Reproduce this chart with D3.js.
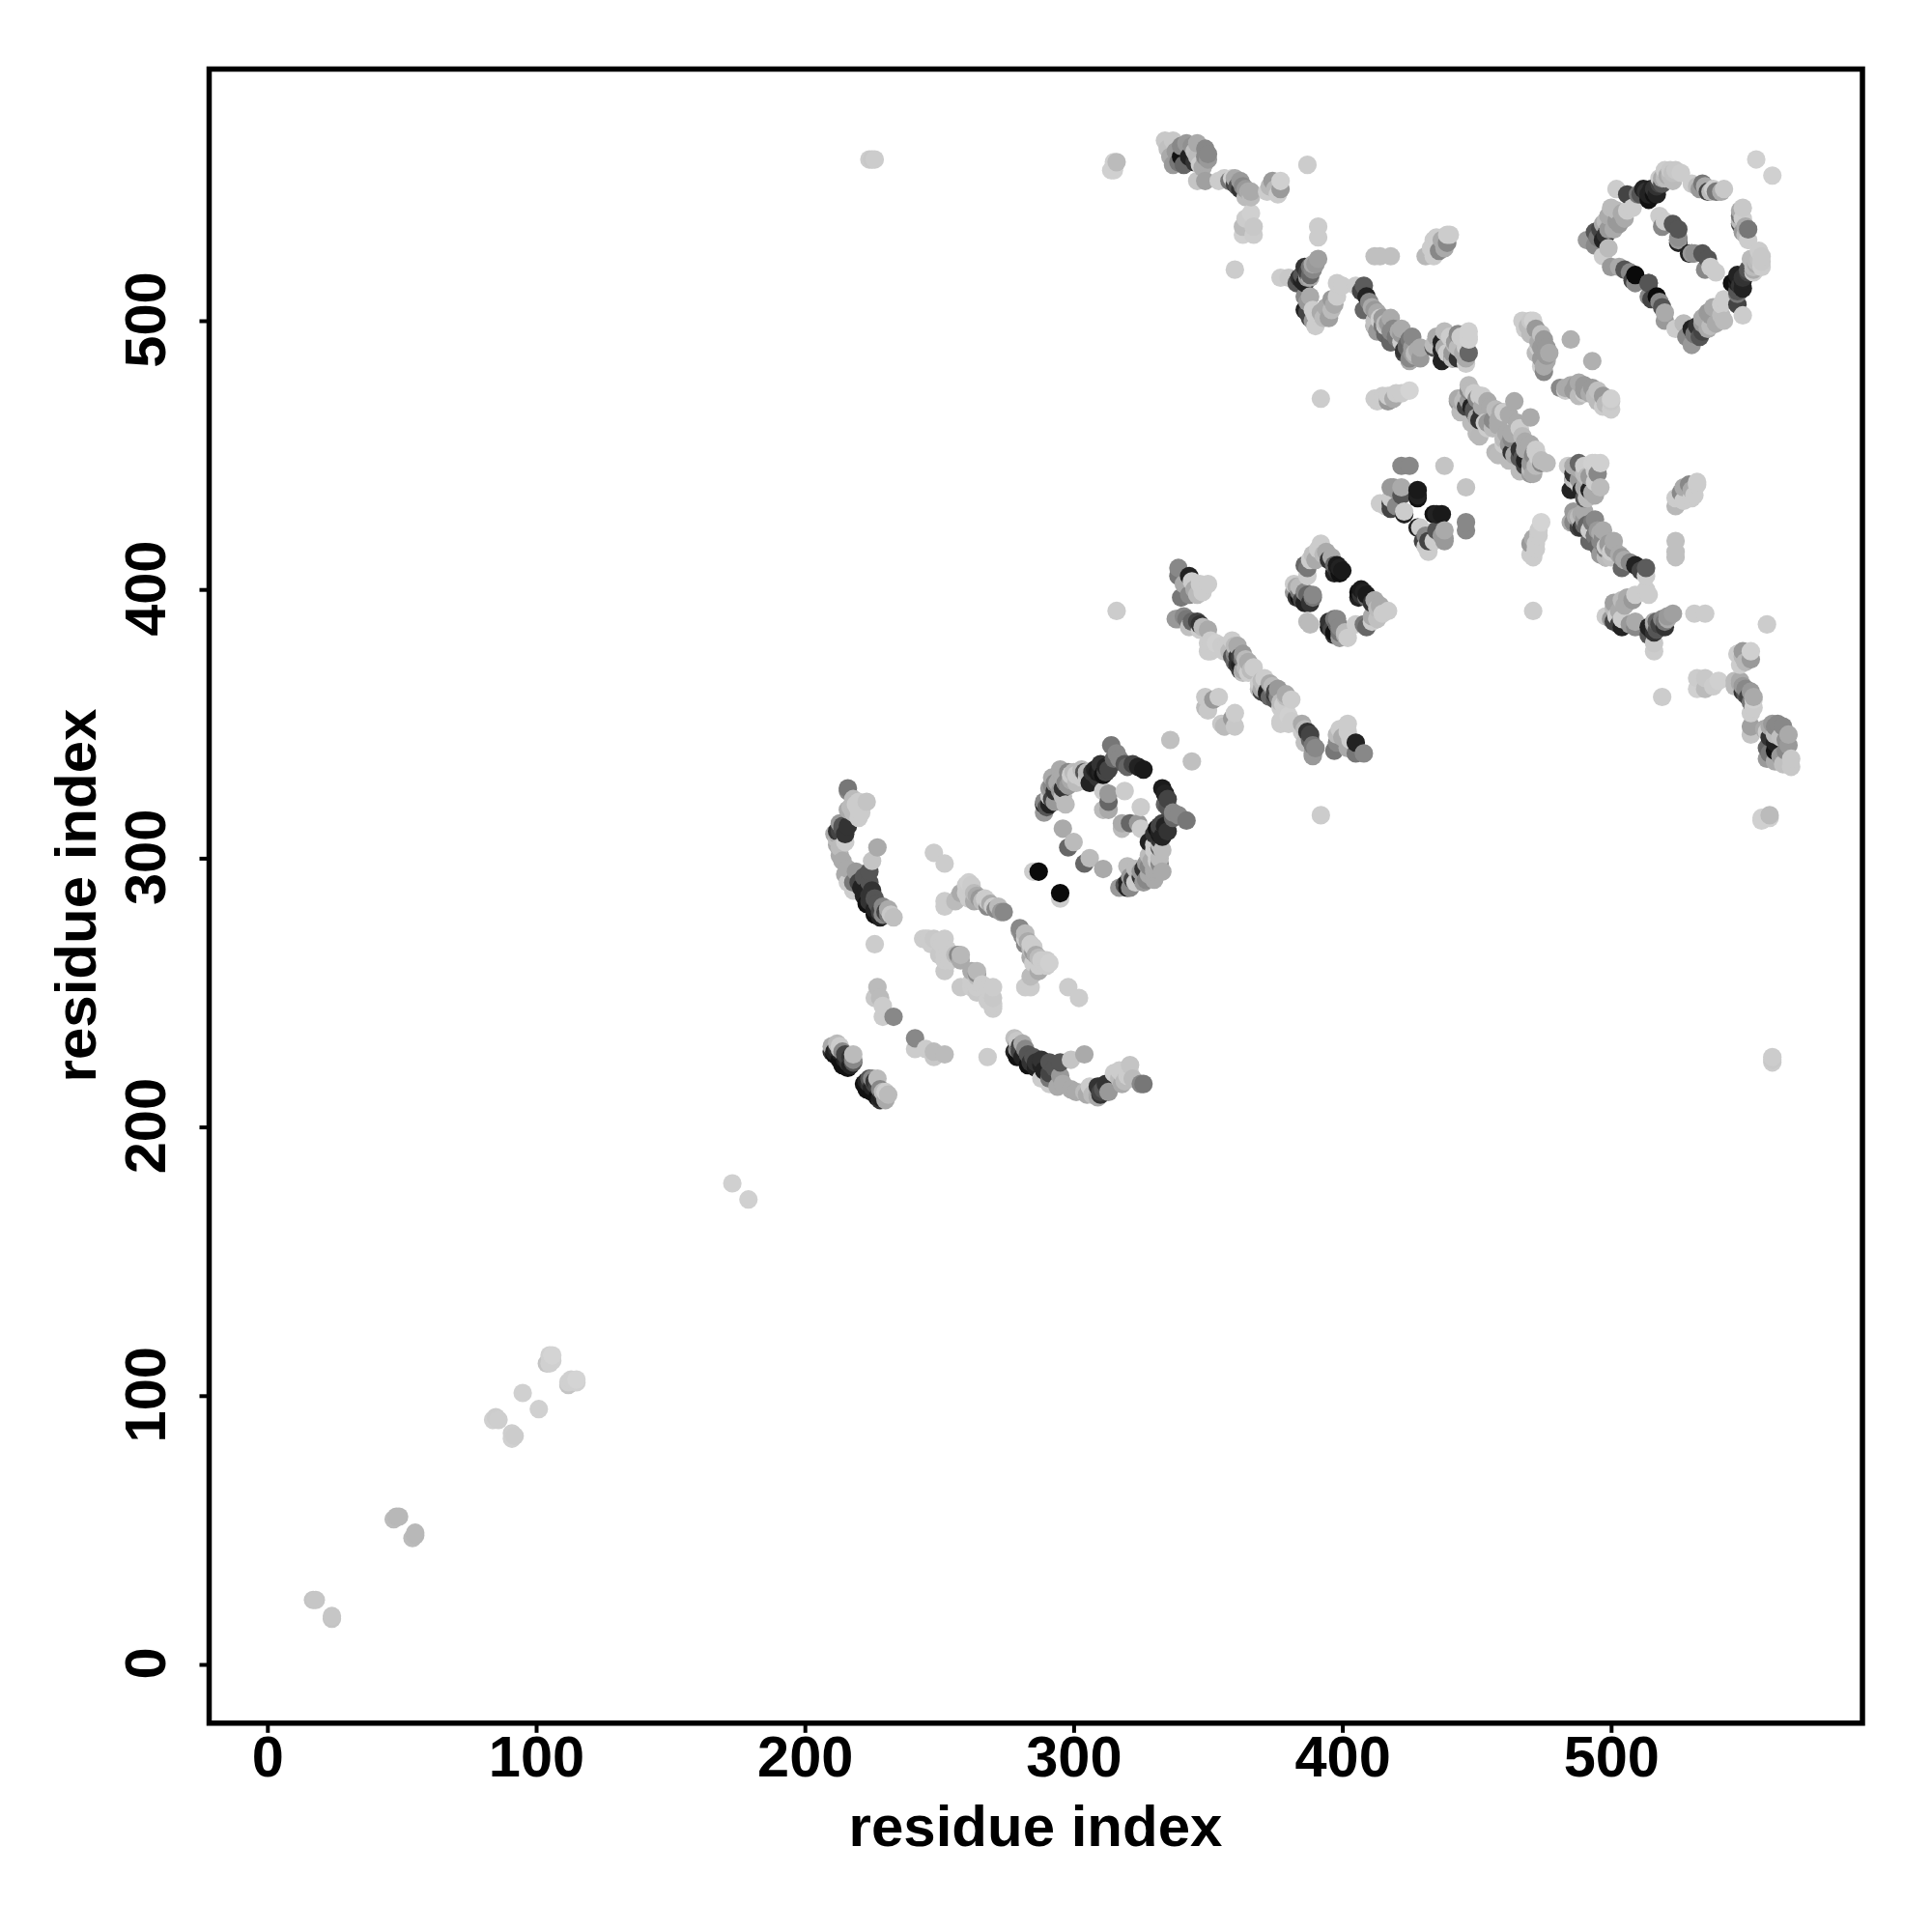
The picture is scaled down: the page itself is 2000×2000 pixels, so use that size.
<!DOCTYPE html>
<html><head><meta charset="utf-8">
<script src="https://cdn.jsdelivr.net/npm/d3@7/dist/d3.min.js"></script>
<style>html,body{margin:0;padding:0;background:#fff}svg{display:block}</style>
</head><body><svg id="c" width="2000" height="2000"></svg>
<script>
// Contact pairs [residue i, residue j, grey level]; the map is symmetric, each pair is shown at (i,j) and (j,i)
const nearDiagonal = [[17,24,0xc4],[18,24,0xc6],[47,54,0xbb],[48,55,0xb8],[49,55,0xb8],[84,91,0xd0],[85,92,0xcc],[86,91,0xce],[95,101,0xd0],[104,112,0xc4],[105,112,0xd0],[105,115,0xd0],[106,113,0xd0],[106,115,0xd4],[173,179,0xd0]];
const longRange = [[224,560,0xcc],[225,560,0xc8],[226,560,0xcc],[315,556,0xd0],[314,556,0xd0],[315,559,0xd0],[316,559,0xbb],[316,392,0xcc],[336,344,0xc0],[387,558,0xcc],[392,471,0xcc],[554,560,0xd0],[360,519,0xcc]];
const topBlob = [[334,567,0xc8],[337,567,0xc8],[335,564,0xc0],[337,558,0x9a],[340,565,0x88],[340,561,0x11],[341,558,0x66],[344,565,0x90],[343,561,0x22],[345,563,0xc0],[349,564,0x88],[349,561,0x88],[349,559,0xaa],[336,561,0xaa],[338,563,0x99],[339,559,0x77],[342,566,0x99],[346,566,0xaa],[347,558,0xcc],[346,561,0xbb],[350,562,0x88],[350,560,0x99],[348,557,0xaa],[345,559,0x33]];
const topTail = [[346,552,0xc4],[349,552,0xa0],[354,552,0xcc],[359,553,0xd0],[358,552,0x77],[361,550,0x55],[363,550,0x88],[362,552,0x99],[365,548,0xaa],[364,546,0xbb],[373,550,0xb8],[374,552,0x9a],[376,547,0xcc],[377,549,0x9a],[377,552,0xd0],[366,540,0xd0],[364,538,0xcc],[367,535,0xc8],[363,535,0xbb],[363,532,0xd0],[367,532,0xcc],[356,553,0xcc],[360,551,0x44],[362,549,0x33],[364,549,0x99],[366,548,0xaa],[366,546,0xbb],[360,553,0xaa],[372,548,0xcc],[375,549,0xb8]];
const upperCluster = [[391,535,0xcc],[391,531,0xcc],[391,523,0xa0],[388,520,0x77],[386,520,0x33],[385,517,0x55],[386,514,0x22],[387,516,0x99],[383,514,0x55],[377,516,0xcc],[380,516,0xc8],[389,521,0xaa],[386,509,0x88],[388,509,0xaa],[386,504,0x22],[389,504,0xcc],[390,498,0xcc],[388,501,0x44],[395,501,0xa0],[396,504,0xbb],[396,508,0x99],[398,509,0xcc],[398,514,0xcc],[400,513,0xcc],[390,502,0xcc],[387,518,0x44],[388,517,0x66],[389,519,0x88],[390,521,0x99],[384,516,0x33],[385,515,0x22],[388,516,0xaa],[387,507,0x99],[387,503,0x44],[389,500,0x99],[392,503,0xaa],[393,501,0xbb],[394,505,0xaa],[397,506,0xaa]];
const upperStrand = [[405,513,0xcc],[408,513,0x5c],[409,509,0x22],[408,504,0x66],[412,504,0x99],[414,500,0xcc],[412,498,0x88],[417,499,0x9a],[416,495,0x66],[421,496,0xaa],[418,492,0x55],[425,493,0x77],[423,489,0x33],[428,489,0xaa],[425,486,0x88],[412,524,0xc0],[414,524,0xc0],[418,524,0xc0],[431,524,0xb8],[434,524,0xcc],[436,526,0x88],[434,530,0xcc],[439,532,0xcc],[439,529,0x88],[440,532,0xcc],[435,531,0xcc],[412,471,0xcc],[417,470,0x99],[417,472,0xcc],[420,473,0xcc],[425,474,0xd4],[410,507,0x88],[411,505,0xaa],[413,503,0xaa],[415,501,0x99],[415,498,0x77],[419,497,0x88],[420,494,0x77],[422,495,0x99],[424,491,0x66],[426,490,0x99],[427,488,0xbb],[416,498,0xcc],[407,511,0x44],[433,527,0xcc],[437,530,0xaa],[438,527,0xaa],[413,470,0xcc],[415,472,0xcc],[419,471,0xaa],[422,473,0xcc]];
const ringK = [[422,446,0x88],[425,446,0x88],[438,446,0xc4],[419,438,0x99],[422,438,0xaa],[418,438,0x99],[420,437,0x99],[414,432,0xcc],[416,431,0xcc],[418,432,0x44],[418,430,0x44],[420,431,0x88],[418,434,0xcc],[423,429,0xcc],[423,428,0x22],[428,434,0x11],[422,435,0x55],[428,437,0x1a],[428,435,0x22]];
const crossStrand = [[447,476,0xbb],[443,471,0xaa],[449,473,0xcc],[444,466,0xbb],[454,470,0xaa],[464,470,0xaa],[459,466,0xaa],[450,458,0xbb],[453,462,0xcc],[449,466,0x55],[456,463,0x88],[451,472,0xcc],[445,470,0xbb],[452,468,0xaa],[448,468,0x22],[452,466,0x33],[451,463,0x33],[449,467,0x55],[447,474,0x88],[443,470,0x99],[452,472,0xcc],[454,460,0xcc],[451,457,0xb8],[444,470,0xaa],[446,472,0xbb],[448,474,0xbb],[450,471,0x88],[446,468,0x44],[455,468,0xaa],[457,467,0xbb],[460,466,0xcc],[462,465,0xaa],[458,463,0xaa],[448,462,0xbb],[454,462,0x99],[456,460,0xbb],[450,464,0xaa],[458,461,0xaa],[447,470,0x99]];
const blob470 = [[470,500,0xc8],[467,500,0xcc],[472,497,0x99],[475,493,0x99],[476,490,0x99],[474,495,0xc0],[476,485,0xaa],[475,481,0x88],[474,483,0xcc],[470,495,0xbb],[471,500,0xd0],[469,498,0xbb],[485,493,0xb0],[468,497,0xcc],[473,492,0xaa],[472,488,0xbb],[474,486,0x99],[477,488,0xaa],[473,490,0xcc],[472,494,0xbb],[475,483,0xaa],[476,487,0x99],[474,490,0x99]];
const blob490 = [[488,447,0x66],[494,447,0xd0],[496,447,0xd0],[484,446,0xcc],[495,443,0x88],[485,437,0x22],[489,437,0x22],[486,443,0x33],[491,442,0xbb],[496,438,0xbb],[494,435,0xaa],[490,434,0x55],[486,441,0x55],[492,437,0x22],[488,441,0x99],[441,486,0xbb],[443,490,0xbb],[440,494,0xcc],[438,490,0xaa],[445,488,0xaa],[442,492,0x99],[444,494,0xcc],[446,490,0xcc],[446,486,0xaa],[447,493,0xd0],[436,493,0xaa],[434,491,0xbb],[439,488,0xcc]];
const strand490 = [[485,425,0xaa],[486,429,0x99],[490,429,0xaa],[494,426,0x88],[488,423,0x44],[492,422,0xcc],[497,422,0xaa],[496,418,0x88],[492,418,0x66],[501,418,0xaa],[496,413,0x99],[501,414,0xcc],[500,412,0xc0],[499,416,0xbb],[498,412,0xbb],[494,420,0x77],[490,424,0x66],[488,426,0x99],[487,427,0xaa]];
const diamondLeft = [[491,530,0x99],[494,528,0x88],[494,533,0x55],[498,532,0x33],[497,530,0x22],[498,537,0xbb],[502,537,0x99],[500,542,0xbb],[504,540,0xaa],[508,542,0xcc],[506,547,0x44],[502,549,0xcc],[497,524,0xcc],[499,527,0xbb],[495,531,0x77],[496,534,0x44],[499,534,0x99],[501,534,0xaa],[503,536,0x99],[505,538,0xaa],[497,536,0xaa],[499,539,0xaa],[502,541,0xbb],[506,541,0xcc]];
const diamondTop = [[510,547,0x77],[514,547,0x22],[512,549,0x22],[514,545,0x11],[516,549,0x33],[517,547,0x22],[519,551,0x55],[518,553,0xcc],[522,556,0xc8],[520,556,0xcc],[524,556,0xc8],[521,554,0xaa],[523,552,0xbb],[526,555,0xcc],[511,547,0x55],[513,548,0x33],[515,549,0x22],[516,547,0x11],[518,551,0x44],[519,553,0xaa],[520,553,0xbb],[522,554,0xbb],[517,550,0x33],[523,555,0xc0]];
const diamondArc = [[530,551,0xcc],[534,551,0x77],[532,550,0xbb],[536,548,0x44],[538,549,0xcc],[541,548,0xaa],[542,549,0xc8],[533,549,0x99],[535,550,0xaa],[537,548,0xbb],[539,548,0x77]];
const diamondInner = [[518,539,0xcc],[519,535,0x88],[520,537,0xcc],[523,536,0x55],[525,531,0x8f],[525,530,0x11],[530,525,0x99],[529,525,0x22],[534,525,0x55],[500,520,0x99],[503,520,0xaa],[505,519,0x55],[509,517,0x0a],[508,515,0x44],[507,518,0x88],[509,514,0x88],[514,514,0x55]];
const p339 = [[339,408,0x88],[343,405,0x22],[339,405,0x77],[347,402,0xcc],[350,402,0xcc],[344,403,0xcc],[346,398,0xbb],[340,397,0x77],[343,398,0x88],[339,389,0x99],[342,389,0x77],[346,388,0x44],[350,385,0xaa],[343,386,0xc0],[347,385,0xcc],[338,389,0x99],[347,387,0x33],[341,402,0xaa],[345,400,0xaa],[348,399,0xcc],[341,390,0x88],[344,388,0x66],[348,386,0xbb]];
const strand360 = [[350,380,0xcc],[353,380,0xd0],[350,377,0xcc],[357,378,0xcc],[361,379,0xaa],[359,375,0x55],[364,374,0xbb],[363,370,0xaa],[362,372,0x22],[351,377,0xcc],[351,381,0xcc],[363,369,0xc0],[367,371,0xcc],[362,370,0x44],[360,373,0x66],[363,376,0x99],[360,379,0xbb],[357,379,0xcc],[355,379,0xcc],[358,377,0xbb],[360,376,0x88],[362,375,0x44],[363,374,0x77],[365,373,0xaa],[364,371,0xbb],[366,370,0xbb],[359,381,0xcc],[356,377,0xcc],[353,378,0xcc],[361,372,0x33],[365,369,0xcc],[361,375,0x33]];
const pair350 = [[349,360,0xc8],[354,360,0xcc],[352,359,0x99],[349,356,0xbb],[350,355,0xc8]];
const diamond400 = [[392,417,0xcc],[394,414,0xaa],[389,413,0xc0],[396,412,0xaa],[386,409,0x66],[388,411,0xcc],[398,409,0x1a],[400,407,0x1a],[397,406,0x22],[387,405,0xcc],[382,402,0xcc],[386,399,0x88],[382,399,0x99],[389,397,0x77],[386,395,0x22],[391,415,0xcc],[395,411,0x33],[399,408,0x22],[387,408,0x77],[384,397,0x11],[387,388,0xbb],[383,401,0xaa],[390,411,0xaa],[393,413,0xbb],[397,409,0x66],[398,407,0x33],[399,406,0x11],[384,399,0x77],[385,396,0x44],[387,398,0x66],[388,395,0x33],[384,401,0xbb],[389,398,0x88],[383,397,0x33]];
const ring310 = [[314,342,0x77],[316,339,0x88],[309,332,0x1a],[310,335,0x33],[312,332,0x44],[319,335,0x55],[322,335,0x44],[326,333,0x1a],[319,325,0xcc],[313,324,0x99],[313,321,0x66],[313,318,0xaa],[311,325,0xcc],[311,318,0xbb],[289,317,0x99],[289,321,0x88],[292,327,0x88],[291,323,0xcc],[291,320,0x22],[296,323,0xbb],[296,330,0xaa],[296,326,0x33],[299,331,0xcc],[297,328,0x88],[305,330,0xcc],[301,328,0xbb],[296,311,0xaa],[300,306,0xbb],[298,304,0x66],[293,328,0x88],[293,325,0x33],[296,331,0xaa],[297,320,0xbb],[304,332,0x55],[312,334,0x22],[306,328,0x22],[308,333,0x22],[307,332,0x33],[309,330,0x33],[311,331,0x11],[310,332,0x22],[313,333,0x44],[315,337,0x66],[317,337,0x88],[320,334,0x66],[324,334,0x22],[305,332,0xbb],[303,330,0xcc],[294,328,0xaa],[295,325,0x99],[290,319,0x55],[292,322,0x44],[298,327,0x99],[291,326,0x99],[293,321,0x99],[295,330,0xaa],[299,329,0xaa],[289,320,0x22],[292,330,0xaa],[298,332,0x88],[295,333,0xaa],[300,332,0xbb],[301,331,0xcc],[303,333,0xbb]];
const blackPair = [[285,295,0xcc],[287,295,0x0a]];
const arc225 = [[216,326,0x77],[218,322,0xbb],[223,321,0xc4],[220,318,0xcc],[218,317,0xbb],[216,312,0x33],[213,310,0x44],[211,309,0xaa],[213,304,0xbb],[214,299,0xaa],[216,296,0xaa],[216,291,0xcc],[218,291,0x77],[218,288,0xcc],[227,304,0xaa],[225,299,0xc4],[224,295,0x55],[222,293,0x55],[221,289,0x22],[224,286,0x33],[226,285,0x55],[229,282,0x88],[232,279,0xc8],[230,280,0x44],[225,288,0x33],[223,283,0x11],[226,279,0x11],[233,278,0xc0],[231,279,0x77],[228,278,0x22],[224,291,0x55],[214,312,0x55],[215,309,0x33],[220,315,0xcc],[212,309,0xaa],[221,317,0xcc],[216,325,0x88],[212,310,0x33],[214,311,0x55],[213,313,0x99],[212,307,0xbb],[217,319,0xbb],[216,318,0xaa],[219,320,0xcc],[220,321,0xcc],[222,286,0x22],[223,288,0x22],[224,284,0x33],[227,283,0x55],[226,281,0x22],[228,280,0x44],[229,279,0x88],[231,281,0xaa],[220,291,0x44],[219,295,0x99],[215,294,0xaa],[213,301,0xaa],[215,306,0xcc],[212,305,0xaa]];
const strand270 = [[248,302,0xcc],[252,298,0xcc],[252,284,0xcc],[257,285,0xbb],[261,291,0xd0],[260,287,0xcc],[264,286,0xaa],[267,285,0xcc],[268,282,0x88],[270,282,0xcc],[273,280,0x99],[252,282,0xcc],[226,268,0xcc],[258,287,0xaa],[262,288,0xcc],[263,287,0xbb],[265,285,0x99],[266,284,0xbb],[269,283,0xaa],[271,281,0x88],[272,282,0xbb],[256,284,0xbb],[260,290,0xcc],[262,290,0xcc],[274,280,0x88],[261,285,0xcc],[268,284,0xcc],[263,284,0xaa]];
const blob255 = [[244,270,0xcc],[248,270,0xc8],[252,267,0xcc],[254,264,0xcc],[258,264,0xb8],[257,264,0x88],[252,258,0xc8],[252,264,0xcc],[245,270,0xcc],[252,270,0xcc],[246,270,0xcc],[250,269,0xcc],[251,268,0xcc],[253,266,0xcc],[256,264,0xbb],[255,264,0xcc],[252,262,0xcc],[254,262,0xcc],[247,268,0xcc],[250,264,0xc8],[258,262,0xaa]];
const stem230 = [[227,252,0xbb],[228,248,0xbb],[226,248,0xc8],[229,241,0xcc],[233,241,0x88],[229,245,0xcc]];
const lowDark = [[210,230,0xaa],[213,230,0xcc],[211,228,0x22],[214,228,0x88],[217,226,0x33],[218,225,0x88],[213,225,0x11],[216,222,0x11],[218,224,0x55],[217,223,0x22],[216,226,0x44],[210,228,0x33],[212,229,0x33],[213,228,0x22],[215,227,0x44],[215,225,0x22],[216,224,0x33],[211,227,0x11],[214,223,0x11],[213,229,0xbb],[212,231,0xbb],[218,227,0xbb]];

const clusters = [nearDiagonal,longRange,topBlob,topTail,upperCluster,upperStrand,ringK,crossStrand,blob470,blob490,strand490,diamondLeft,diamondTop,diamondArc,diamondInner,p339,strand360,pair350,diamond400,ring310,blackPair,arc225,strand270,blob255,stem230,lowDark];
const tickValues = [0,100,200,300,400,500];
const axisTitle = "residue index";

const svg = d3.select("#c");
const x = d3.scaleLinear().domain([0,500]).range([276.8,1667.8]);
const y = d3.scaleLinear().domain([0,500]).range([1723,332]);
const frame = {l:x.invert(216.5), r:x.invert(1928), t:y.invert(71.5), b:y.invert(1783.8)};
const FONT = "'Liberation Sans', Arial, Helvetica, sans-serif";

const points = [];
clusters.forEach(c => c.forEach(([i,j,g]) => { points.push({x:i,y:j,g}); points.push({x:j,y:i,g}); }));
points.sort((a,b) => d3.ascending(a.x,b.x) || d3.ascending(a.y,b.y));

svg.append("g").selectAll("circle").data(points).join("circle")
  .attr("cx",d=>x(d.x)).attr("cy",d=>y(d.y)).attr("r",9.6)
  .attr("fill",d=>d3.rgb(d.g,d.g,d.g).formatHex());

svg.append("rect").attr("x",x(frame.l)).attr("y",y(frame.t))
  .attr("width",x(frame.r)-x(frame.l)).attr("height",y(frame.b)-y(frame.t))
  .attr("fill","none").attr("stroke","#000").attr("stroke-width",5.5);

const xAxis = svg.append("g").attr("transform",`translate(0,${y(frame.b)})`)
  .call(d3.axisBottom(x).tickValues(tickValues).tickSize(10).tickPadding(0).tickFormat(d3.format("d")));
const yAxis = svg.append("g").attr("transform",`translate(${x(frame.l)},0)`)
  .call(d3.axisLeft(y).tickValues(tickValues).tickSize(10).tickPadding(0).tickFormat(d3.format("d")));
[xAxis,yAxis].forEach(a=>{
  a.select(".domain").remove();
  a.selectAll("line").attr("stroke","#000").attr("stroke-width",4);
  a.selectAll("text").attr("font-family",FONT).attr("font-weight","bold").attr("font-size",59.5).attr("fill","#000");
});
xAxis.selectAll("text").attr("y",55).attr("dy",null);
yAxis.selectAll("text").attr("x",null).attr("dy",null).attr("text-anchor","middle")
  .attr("transform","translate(-45.5,-1.5) rotate(-90)").attr("y",0);

svg.append("text").attr("x",1072).attr("y",1911).attr("text-anchor","middle")
  .attr("font-family",FONT).attr("font-weight","bold").attr("font-size",60).text(axisTitle);
svg.append("text").attr("transform","translate(99,927) rotate(-90)").attr("text-anchor","middle")
  .attr("font-family",FONT).attr("font-weight","bold").attr("font-size",60).text(axisTitle);
</script></body></html>
